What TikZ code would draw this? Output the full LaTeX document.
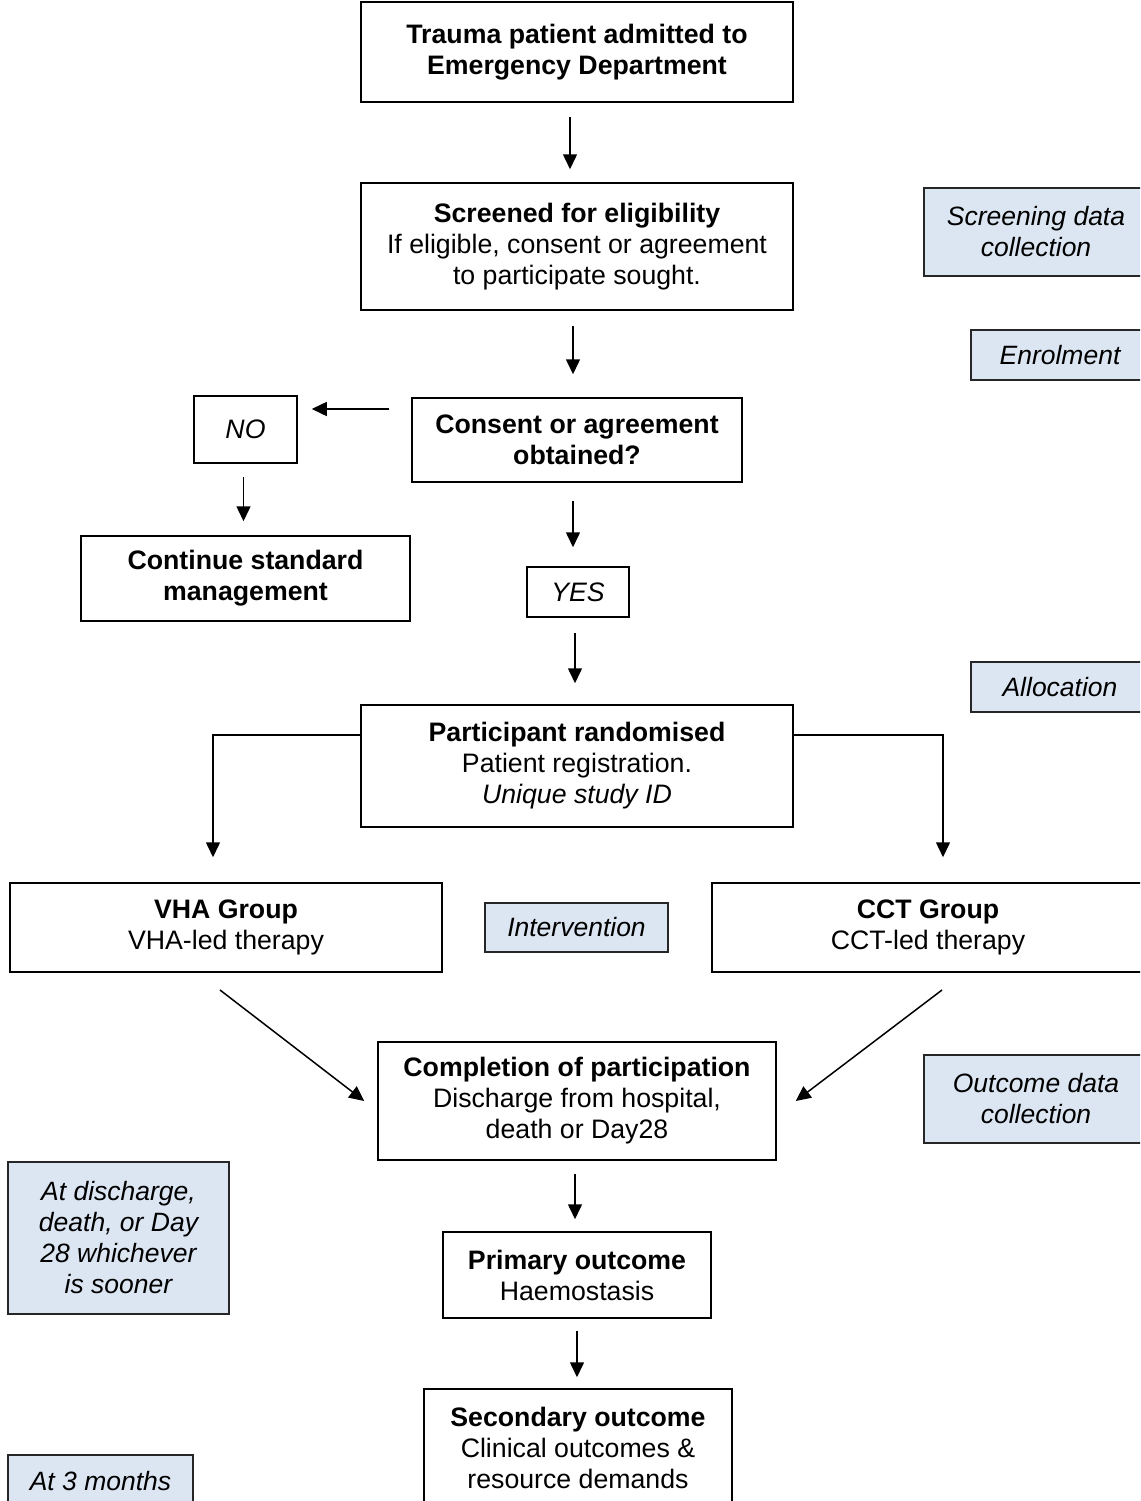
\documentclass[tikz,border=0pt]{standalone}
\usepackage{fontspec}
\setmainfont{Liberation Sans}
\usetikzlibrary{arrows.meta}
\definecolor{sidefill}{HTML}{DCE6F2}
\begin{document}
\begin{tikzpicture}[x=1pt,y=-1pt,
  box/.style={draw=black, line width=1.5pt, inner sep=0pt, align=center, font=\fontsize{26.7}{31}\selectfont},
  side/.style={box, fill=sidefill, draw=black!85, font=\fontsize{26.5}{31}\selectfont\itshape},
  arr/.style={line width=1.5pt, -{Triangle[length=15pt,width=14pt]}},
  ln/.style={line width=1.5pt}]
\clip (0,0) rectangle (1140,1501);
\useasboundingbox (0,0) rectangle (1140,1501);
% main boxes
\node[box, minimum width=432, minimum height=100] (top) at (577,52) {\textbf{Trauma patient admitted to}\\\textbf{Emergency Department}};
\node[box, minimum width=432, minimum height=127] (scr) at (577,246.5) {\textbf{Screened for eligibility}\\If eligible, consent or agreement\\to participate sought.};
\node[box, minimum width=330, minimum height=84] (cons) at (577,440) {\textbf{Consent or agreement}\\\textbf{obtained?}};
\node[box, minimum width=103, minimum height=67] (no) at (245.5,429.5) {\textit{NO}};
\node[box, minimum width=329, minimum height=85] (cont) at (245.5,578.5) {\textbf{Continue standard}\\\textbf{management}};
\node[box, minimum width=102, minimum height=50] (yes) at (578,592) {\textit{YES}};
\node[box, minimum width=432, minimum height=122] (rand) at (577,766) {\textbf{Participant randomised}\\Patient registration.\\\textit{Unique study ID}};
\node[box, minimum width=432, minimum height=89] (vha) at (226,927.5) {\textbf{VHA Group}\\VHA-led therapy};
\node[box, minimum width=432, minimum height=89] (cct) at (928,927.5) {\textbf{CCT Group}\\CCT-led therapy};
\node[box, minimum width=398, minimum height=118] (compl) at (577,1101) {\textbf{Completion of participation}\\Discharge from hospital,\\death or Day28};
\node[box, minimum width=268, minimum height=86] (prim) at (577,1275) {\textbf{Primary outcome}\\Haemostasis};
\node[box, minimum width=308, minimum height=117] (sec) at (578,1447.5) {\textbf{Secondary outcome}\\Clinical outcomes \&\\resource demands};
% side boxes
\node[side, minimum width=224, minimum height=88] (sdc) at (1036,232) {Screening data\\collection};
\node[side, minimum width=178, minimum height=50] (enr) at (1060,355) {Enrolment};
\node[side, minimum width=178, minimum height=50] (alc) at (1060,687) {Allocation};
\node[side, minimum width=183, minimum height=49] (itv) at (576.5,927.5) {Intervention};
\node[side, minimum width=224, minimum height=88] (odc) at (1036,1099) {Outcome data\\collection};
\node[side, minimum width=221, minimum height=152] (atd) at (118.5,1238) {At discharge,\\death, or Day\\28 whichever\\is sooner};
\node[side, minimum width=185, minimum height=52] (at3) at (100.5,1481) {At 3 months};
% arrows
\draw[arr, shorten <=14pt, shorten >=13pt] ([xshift=-7pt]top.south) -- ([xshift=-7pt]top.south |- scr.north);
\draw[arr, shorten <=15pt, shorten >=23pt] ([xshift=-4pt]scr.south) -- ([xshift=-4pt]scr.south |- cons.north);
\draw[arr, shorten <=18pt, shorten >=19pt] ([xshift=-4pt]cons.south) -- ([xshift=-4pt]cons.south |- yes.north);
\draw[arr, shorten <=15pt, shorten >=21pt] ([xshift=-3pt]yes.south) -- ([xshift=-3pt]yes.south |- rand.north);
\draw[arr, shorten <=13pt, shorten >=14pt] ([xshift=-2pt]no.south) -- ([xshift=-2pt]no.south |- cont.north);
\draw[arr, shorten >=14pt] ([xshift=-22pt,yshift=31pt]cons.west) coordinate (n1) -- (n1 -| no.east);
\draw[arr] ([yshift=31pt]rand.west) -| ([xshift=-13pt,yshift=25pt]vha.north);
\draw[arr] ([yshift=31pt]rand.east) -| ([xshift=15pt,yshift=25pt]cct.north);
\coordinate (d1) at (220,990);
\coordinate (d2) at (942,990);
\draw[arr] (d1) -- ([xshift=-13pt]compl.west);
\draw[arr] (d2) -- ([xshift=19pt]compl.east);
\draw[arr, shorten <=13pt, shorten >=12pt] ([xshift=-2pt]compl.south) -- ([xshift=-2pt]compl.south |- prim.north);
\draw[arr, shorten <=12pt, shorten >=11pt] (prim.south) -- (prim.south |- sec.north);
\end{tikzpicture}
\end{document}
